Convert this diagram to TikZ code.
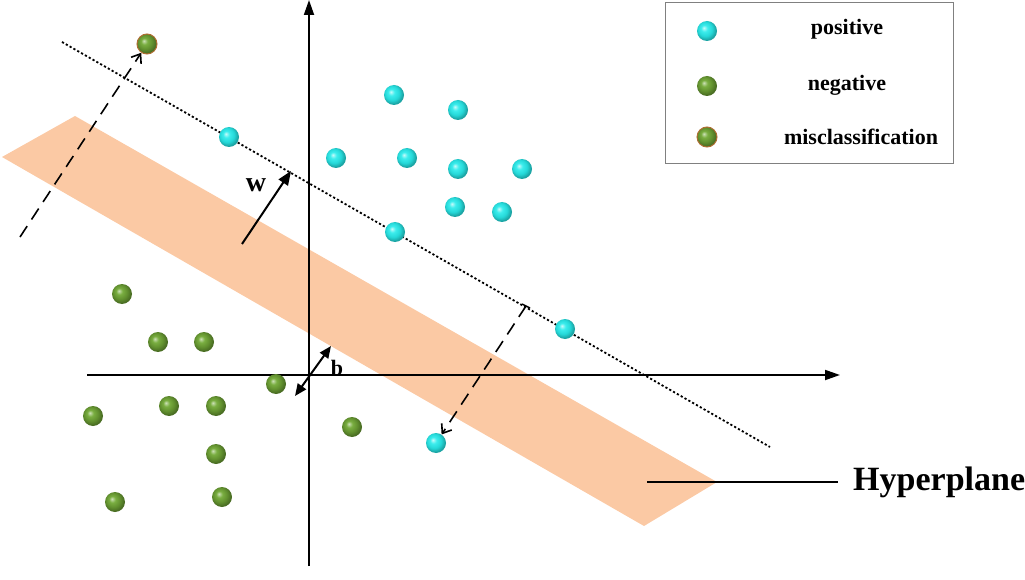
\documentclass[tikz,border=0pt]{standalone}
\usepackage{fontspec}
\setmainfont{Liberation Serif}
\usetikzlibrary{arrows.meta,calc}
\definecolor{band}{RGB}{251,201,164}
\definecolor{pos}{RGB}{40,235,235}
\definecolor{neg}{RGB}{115,170,55}
\definecolor{rim}{RGB}{175,110,50}
\pgfdeclareradialshading{posshade}{\pgfpoint{-8bp}{8bp}}{color(0bp)=(pos!25!white); color(8bp)=(pos!90!white); color(18bp)=(pos!92!black); color(26bp)=(pos!70!black); color(50bp)=(pos!50!black)}
\pgfdeclareradialshading{negshade}{\pgfpoint{-8bp}{8bp}}{color(0bp)=(neg!35!white); color(8bp)=(neg!95!white); color(18bp)=(neg!85!black); color(26bp)=(neg!65!black); color(50bp)=(neg!50!black)}
\tikzset{
  posball/.style={circle, inner sep=0pt, minimum size=20pt, shading=posshade},
  negball/.style={circle, inner sep=0pt, minimum size=20pt, shading=negshade},
  misball/.style={circle, inner sep=0pt, minimum size=20pt, shading=negshade, draw=rim, line width=1pt},
  axis/.style={line width=1.8pt, -{Triangle[length=15pt,width=10pt]}},
  projarrow/.style={line width=1.6pt, dash pattern=on 13pt off 8pt, -{Straight Barb[length=8pt,width=12pt]}},
  legtext/.style={font=\bfseries\fontsize{22}{26}\selectfont, inner sep=0pt},
}
\begin{document}
\begin{tikzpicture}[x=1pt,y=-1pt]
\useasboundingbox (0,0) rectangle (1025,580);
% band
\fill[band] (2,157) -- (75,116) -- (717,482) -- (644,526) -- cycle;
% axes
\coordinate (xs) at (87,375); \coordinate (xe) at (840,375);
\coordinate (ys) at (309,566); \coordinate (ye) at (309,0);
\draw[axis] (xs) -- (xe);
\draw[axis] (ys) -- (ye);
% dotted margin line
\coordinate (d1) at (62,42); \coordinate (d2) at (770,447);
\draw[line width=1.8pt, dash pattern=on 2.2pt off 2.2pt] (d1) -- (d2);
% hyperplane label
\coordinate (h1) at (647,482); \coordinate (h2) at (838,482);
\draw[line width=1.5pt] (h1) -- (h2);
\node[anchor=west, font=\bfseries\fontsize{34}{38}\selectfont, inner sep=0pt] (hyp) at (853,482) {Hyperplane};
% w arrow
\coordinate (w1) at (242,244); \coordinate (w2) at (291,171);
\draw[line width=2pt, -{Triangle[length=14pt,width=11pt]}] (w1) -- (w2);
\node[font=\bfseries\fontsize{28}{32}\selectfont, inner sep=0pt] (wl) at (256,185) {w};
% b arrow
\coordinate (b1) at (295,396); \coordinate (b2) at (331,346);
\draw[line width=2pt, {Triangle[length=12pt,width=10pt]}-{Triangle[length=12pt,width=10pt]}] (b1) -- (b2);
\node[font=\bfseries\fontsize{22}{26}\selectfont, inner sep=0pt] (bl) at (337,368) {b};
% balls
\node[posball] (p1) at (229,137) {};
\node[posball] (p2) at (394,95) {};
\node[posball] (p3) at (458,110) {};
\node[posball] (p4) at (336,158) {};
\node[posball] (p5) at (407,158) {};
\node[posball] (p6) at (458,169) {};
\node[posball] (p7) at (522,169) {};
\node[posball] (p8) at (455,207) {};
\node[posball] (p9) at (502,212) {};
\node[posball] (p10) at (395,232) {};
\node[posball] (p11) at (565,329) {};
\node[posball] (p12) at (436,443) {};
\node[negball] (n1) at (122,294) {};
\node[negball] (n2) at (158,342) {};
\node[negball] (n3) at (204,342) {};
\node[negball] (n4) at (276,384) {};
\node[negball] (n5) at (93,416) {};
\node[negball] (n6) at (169,406) {};
\node[negball] (n7) at (216,406) {};
\node[negball] (n8) at (352,427) {};
\node[negball] (n9) at (216,454) {};
\node[negball] (n10) at (115,502) {};
\node[negball] (n11) at (222,497) {};
\node[misball] (m1) at (147,44) {};
% projection arrows
\coordinate (a1) at (20,237);
\draw[projarrow] (a1) -- (m1);
\coordinate (a2) at (526,306);
\draw[line width=1.5pt] ($(a2)+(-4,-2)$) -- ($(a2)+(4,2)$);
\draw[projarrow] (a2) -- (p12);
% legend
\node[draw=gray, line width=1pt, minimum width=288pt, minimum height=161pt, inner sep=0pt] (leg) at (809,83.5) {};
\node[posball] (lp) at (707,31) {};
\node[negball] (ln) at (707,86) {};
\node[misball] (lm) at (707,137) {};
\node[legtext] (tp) at (847,29) {positive};
\node[legtext] (tn) at (847,85) {negative};
\node[legtext] (tm) at (861,137) {misclassification};
\end{tikzpicture}
\end{document}
